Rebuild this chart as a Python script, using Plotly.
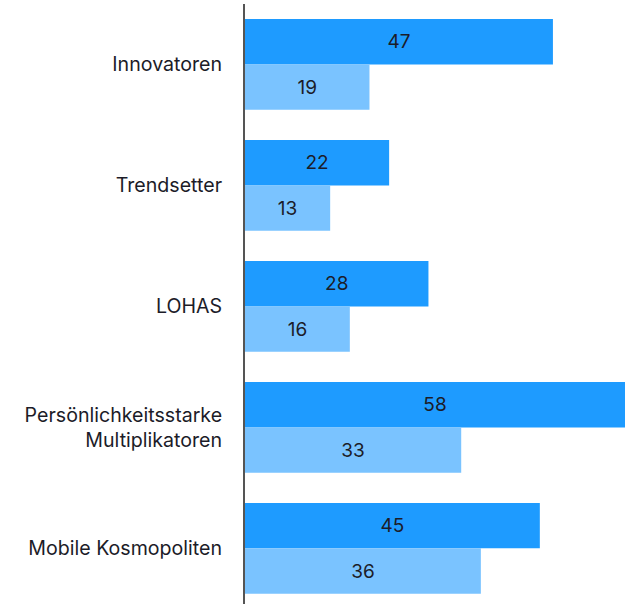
import plotly.graph_objects as go

categories = ["Innovatoren", "Trendsetter", "LOHAS",
              "Persönlichkeitsstarke<br>Multiplikatoren", "Mobile Kosmopoliten"]
series_a = [47, 22, 28, 58, 45]
series_b = [19, 13, 16, 33, 36]

FONT = "Inter, Liberation Sans, sans-serif"

fig = go.Figure()
fig.add_trace(go.Bar(y=categories, x=series_a, orientation="h",
                     marker=dict(color="#1E9BFF", line=dict(width=0)),
                     text=series_a, textposition="inside", insidetextanchor="middle",
                     textfont=dict(size=19, color="#1c1c28", family=FONT),
                     showlegend=False, hoverinfo="skip"))
fig.add_trace(go.Bar(y=categories, x=series_b, orientation="h",
                     marker=dict(color="#7AC3FF", line=dict(width=0)),
                     text=series_b, textposition="inside", insidetextanchor="middle",
                     textfont=dict(size=19, color="#1c1c28", family=FONT),
                     showlegend=False, hoverinfo="skip"))

fig.update_layout(
    width=631, height=604,
    margin=dict(l=245, r=6, t=4, b=0),
    barmode="group", bargap=0.25, bargroupgap=0,
    plot_bgcolor="white", paper_bgcolor="white",
    font=dict(family=FONT, size=19, color="#1c1c28"),
    uniformtext=dict(mode="show", minsize=10),
)
fig.update_xaxes(range=[0, 58], visible=False, showgrid=False, zeroline=False)
fig.update_yaxes(type="category", categoryorder="array", categoryarray=categories,
                 range=[4.46, -0.5], showline=True, linecolor="#555555", linewidth=2,
                 showgrid=False, zeroline=False, ticks="", ticklabelstandoff=17,
                 tickfont=dict(size=19.6, color="#1c1c28", family=FONT))

fig.write_html("out.html", config={"displayModeBar": False},
               post_script="document.body.style.margin='0';document.body.style.padding='0';")
